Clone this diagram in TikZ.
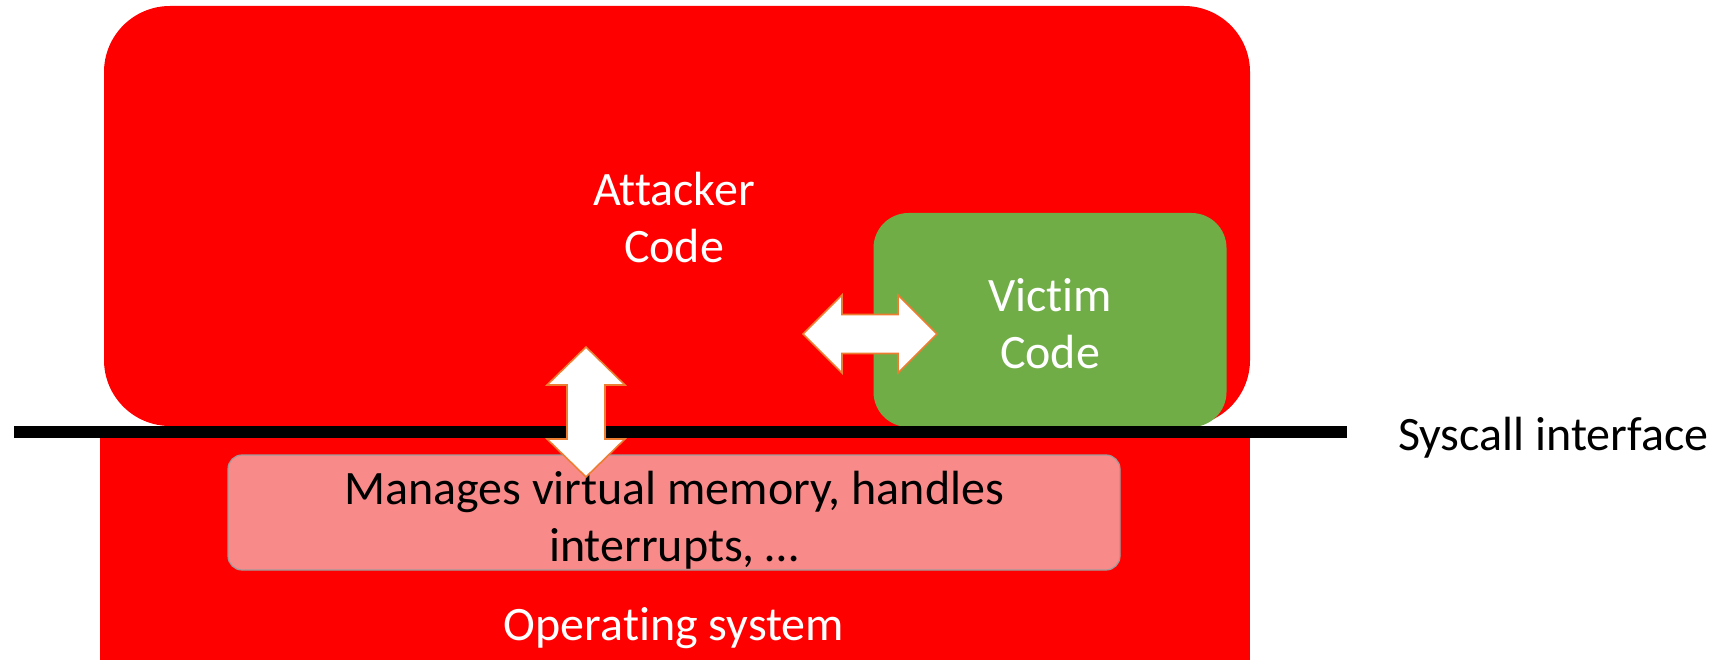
\documentclass[tikz,border=0pt]{standalone}
\usepackage{fontspec}
\setmainfont{Carlito}[Ligatures=NoCommon]
\definecolor{osred}{HTML}{FF0000}
\definecolor{victimgreen}{HTML}{70AD47}
\definecolor{kernpink}{HTML}{F88A8A}
\definecolor{kernedge}{HTML}{A09A9A}
\definecolor{arroworange}{HTML}{ED7D31}
\tikzset{
  redblock/.style={fill=osred, draw=none, inner sep=0pt, rectangle},
  greenblock/.style={fill=victimgreen, draw=none, inner sep=0pt, rectangle, rounded corners=35pt},
  pinkblock/.style={fill=kernpink, draw=kernedge, line width=1.2pt, inner sep=0pt, rectangle, rounded corners=14pt},
  bigtext/.style={font=\fontsize{48}{57}\selectfont, align=center, inner sep=0pt},
  blockarrow/.style={fill=white, draw=arroworange, line width=1.6pt, line join=miter},
  sysline/.style={line width=12pt, black},
}
\begin{document}
\begin{tikzpicture}[x=1pt, y=-1pt]
  \useasboundingbox (0,0) rectangle (1724,660);

  % operating system body
  \node[redblock, minimum width=1150pt, minimum height=240pt] (os) at (675,546) {};
  % user-space block holding the attacker
  \node[redblock, rounded corners=66pt, minimum width=1146pt, minimum height=420pt] (attacker) at (677,216) {};
  % victim process
  \node[greenblock, minimum width=353pt, minimum height=214pt] (victim) at (1050,320) {};

  % syscall boundary
  \coordinate (sysL) at (14,432);
  \coordinate (sysR) at (1347,432);
  \draw[sysline] (sysL) -- (sysR);

  % kernel duties
  \node[pinkblock, minimum width=892pt, minimum height=115pt] (kernel) at (674,512.5) {};

  % labels (base anchor sits on the last line)
  \node[bigtext, white, anchor=base] (attackerlbl) at (674,263) {Attacker\\Code};
  \node[bigtext, white, anchor=base] (victimlbl) at (1050,368) {Victim\\Code};
  \node[bigtext, black, anchor=base west] (syslbl) at (1398,450) {Syscall interface};
  \node[bigtext, black, anchor=base] (kernellbl) at (674,561) {Manages virtual memory, handles\\interrupts, …};
  \node[bigtext, white, anchor=base] (oslbl) at (674,640) {Operating system};

  % attacker <-> victim
  \draw[blockarrow] (803,334) -- (842,295) -- (842,314.5) -- (898,314.5) -- (898,295)
    -- (937,334) -- (898,373) -- (898,353.5) -- (842,353.5) -- (842,373) -- cycle;
  % attacker <-> operating system
  \draw[blockarrow] (586,347) -- (625,385) -- (605,385) -- (605,439) -- (625,439)
    -- (586,477) -- (547,439) -- (567,439) -- (567,385) -- (547,385) -- cycle;
\end{tikzpicture}
\end{document}
